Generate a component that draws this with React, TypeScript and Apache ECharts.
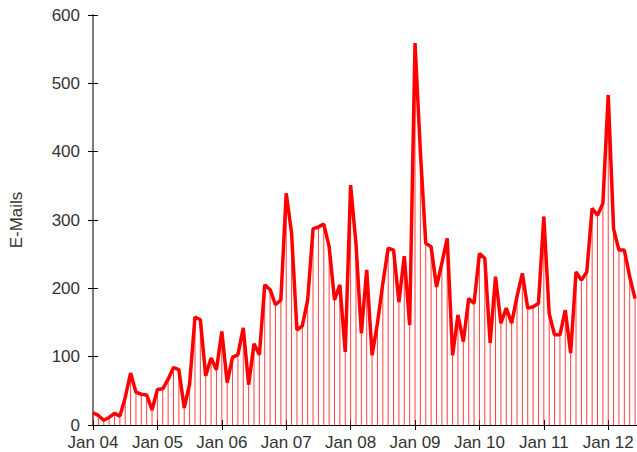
import React, { useEffect, useRef } from "react";
import * as echarts from "echarts";

// Monthly e-mail counts, Jan 2004 .. Jun 2012 (index 0 = Jan 04)
const emails: number[] = [
  18, 14, 7, 11, 17, 13, 40, 76, 48, 45, 44, 22,
  52, 53, 67, 84, 81, 25, 60, 158, 154, 72, 98, 81,
  137, 62, 99, 103, 142, 59, 119, 103, 205, 198, 176, 183,
  339, 281, 139, 145, 183, 287, 290, 294, 261, 183, 205, 107,
  351, 265, 134, 227, 102, 149, 207, 259, 256, 180, 247, 146,
  559, 400, 266, 261, 202, 237, 273, 102, 161, 122, 185, 178,
  251, 244, 120, 217, 149, 171, 149, 188, 222, 171, 173, 178,
  305, 163, 132, 132, 168, 105, 224, 212, 224, 317, 307, 324,
  483, 287, 256, 256, 217, 185,
];
const startYear = 4; // "Jan 04"
const yTicks: number[] = [0, 100, 200, 300, 400, 500, 600];

export default function App() {
  const ref = useRef<HTMLDivElement>(null);
  useEffect(() => {
    if (!ref.current) return;
    const chart = echarts.init(ref.current, null, { renderer: "svg" });
    const pts = emails.map((v, i) => [i, v]);
    const font = "'Liberation Sans', Arial, sans-serif";
    const xCommon = {
      type: "value" as const,
      min: 0,
      max: 101.36,
      interval: 12,
      splitLine: { show: false },
    };
    chart.setOption({
      animation: false,
      backgroundColor: "#ffffff",
      grid: { left: 93, right: 0, top: 15, bottom: 27, outerBoundsMode: "none" },
      xAxis: [
        {
          ...xCommon,
          position: "bottom",
          axisLine: { show: true, lineStyle: { color: "#808080", width: 1 } },
          axisTick: { show: true, inside: true, length: 5, lineStyle: { color: "#000" } },
          axisLabel: {
            show: true,
            margin: 9,
            fontFamily: font,
            fontSize: 17,
            color: "#333",
            formatter: (v: number) =>
              "Jan " + String(startYear + Math.round(v / 12)).padStart(2, "0"),
          },
        },
        {
          ...xCommon,
          position: "top",
          axisLine: { show: true, lineStyle: { color: "#000", width: 1 } },
          axisTick: { show: true, inside: true, length: 5, lineStyle: { color: "#000" } },
          axisLabel: { show: false },
        },
      ],
      yAxis: [
        {
          type: "value",
          min: yTicks[0],
          max: yTicks[yTicks.length - 1],
          interval: 100,
          position: "left",
          name: "E-Mails",
          nameLocation: "middle",
          nameRotate: 90,
          nameGap: 68,
          nameTextStyle: { fontFamily: font, fontSize: 17, color: "#333" },
          axisLine: { show: true, lineStyle: { color: "#7a7a7a", width: 2 } },
          axisTick: { show: true, inside: true, length: 5, lineStyle: { color: "#000" } },
          axisLabel: { margin: 13, fontFamily: font, fontSize: 17, color: "#333" },
          splitLine: { show: false },
        },
        {
          type: "value",
          min: 0,
          max: 600,
          interval: 100,
          position: "right",
          axisLine: { show: false },
          axisTick: { show: true, inside: true, length: 5, lineStyle: { color: "#000" } },
          axisLabel: { show: false },
          splitLine: { show: false },
        },
      ],
      series: [
        {
          type: "bar",
          data: pts,
          barWidth: 1,
          itemStyle: { color: "rgba(255,0,0,0.75)" },
          z: 2,
        },
        {
          type: "line",
          data: pts,
          symbol: "none",
          lineStyle: { color: "#ff0000", width: 3.5 },
          z: 3,
        },
      ],
    });
    return () => chart.dispose();
  }, []);
  return (
    <div
      ref={ref}
      style={{ position: "fixed", left: 0, top: 0, width: 637, height: 452, background: "#fff" }}
    />
  );
}
